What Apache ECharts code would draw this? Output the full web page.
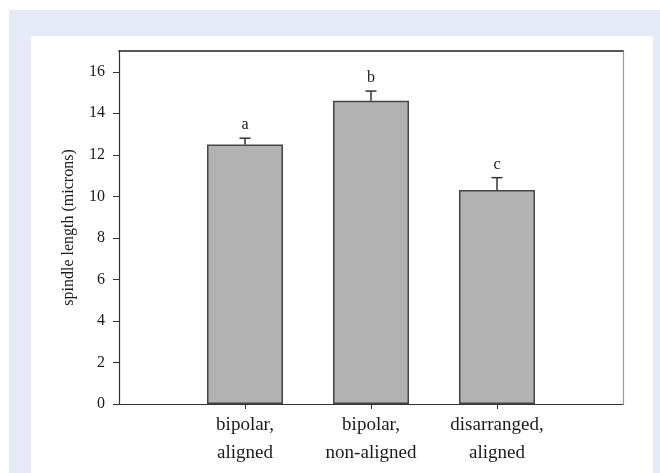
<!DOCTYPE html>
<html>
<head>
<meta charset="utf-8">
<script src="https://cdn.jsdelivr.net/npm/echarts@6/dist/echarts.min.js"></script>
<style>
  html, body { margin: 0; padding: 0; background: #ffffff; }
  #wrap { position: relative; width: 660px; height: 473px; overflow: hidden; }
  #band { position: absolute; left: 9px; top: 10px; width: 651px; height: 463px; background: #e5eaf6; }
  #panel { position: absolute; left: 31px; top: 36px; width: 622px; height: 437px; background: #ffffff; }
  #chart { position: absolute; left: 0; top: 0; width: 660px; height: 473px; }
</style>
</head>
<body>
<div id="wrap">
  <div id="band"></div>
  <div id="panel"></div>
  <div id="chart"></div>
</div>
<script>
const categories = ['bipolar,\naligned', 'bipolar,\nnon-aligned', 'disarranged,\naligned'];
const means = [12.5, 14.6, 10.3];
const errors = [0.3, 0.47, 0.6];
const letters = ['a', 'b', 'c'];
const yTicks = [0, 2, 4, 6, 8, 10, 12, 14, 16];

const axisCats = [''].concat(categories, ['']);
const barData = [null].concat(means, [null]);
const errData = categories.map((c, i) => [i + 1, means[i], means[i] + errors[i], letters[i]]);

const FONT = '"Liberation Serif", "DejaVu Serif", serif';
const TXT = '#1a1a1a';

const chart = echarts.init(document.getElementById('chart'), null, { renderer: 'canvas' });
chart.setOption({
  animation: false,
  backgroundColor: 'transparent',
  grid: { left: 119, right: 37, top: 51, bottom: 69 },
  xAxis: [{
    type: 'category',
    data: axisCats,
    boundaryGap: false,
    axisLine: { onZero: false, lineStyle: { color: '#333', width: 1.2 } },
    axisTick: { show: true, length: 5, lineStyle: { color: '#333' },
      interval: function (idx) { return idx > 0 && idx < axisCats.length - 1; } },
    axisLabel: { color: TXT, fontFamily: FONT, fontSize: 19, lineHeight: 28, margin: 7,
      interval: function (idx) { return idx > 0 && idx < axisCats.length - 1; } },
    splitLine: { show: false }
  }, {
    type: 'category',
    data: axisCats,
    position: 'top',
    boundaryGap: false,
    axisLine: { onZero: false, lineStyle: { color: '#222', width: 1.5 } },
    axisTick: { show: false },
    axisLabel: { show: false }
  }],
  yAxis: [{
    type: 'value',
    min: 0,
    max: 17,
    interval: 2,
    name: 'spindle length (microns)',
    nameLocation: 'middle',
    nameGap: 42,
    nameTextStyle: { color: TXT, fontFamily: FONT, fontSize: 16 },
    axisLine: { show: true, lineStyle: { color: '#333', width: 1.2 } },
    axisTick: { show: true, length: 6, lineStyle: { color: '#333' }, customValues: yTicks },
    axisLabel: { color: TXT, fontFamily: FONT, fontSize: 16, margin: 14, customValues: yTicks },
    splitLine: { show: false }
  }, {
    type: 'value',
    min: 0,
    max: 17,
    position: 'right',
    axisLine: { show: true, onZero: false, lineStyle: { color: '#999', width: 1.2 } },
    axisTick: { show: false },
    axisLabel: { show: false },
    splitLine: { show: false }
  }],
  series: [{
    type: 'bar',
    data: barData,
    barWidth: 76,
    itemStyle: { color: '#b2b2b2', borderColor: '#444', borderWidth: 1.5 },
    z: 2
  }, {
    type: 'custom',
    data: errData,
    z: 3,
    renderItem: function (params, api) {
      const x = api.value(0);
      const base = api.coord([x, api.value(1)]);
      const top = api.coord([x, api.value(2)]);
      const half = 5.5;
      return {
        type: 'group',
        children: [{
          type: 'line',
          shape: { x1: base[0], y1: base[1], x2: top[0], y2: top[1] },
          style: { stroke: '#333', lineWidth: 1.5 }
        }, {
          type: 'line',
          shape: { x1: top[0] - half, y1: top[1], x2: top[0] + half, y2: top[1] },
          style: { stroke: '#333', lineWidth: 1.5 }
        }, {
          type: 'text',
          x: top[0],
          y: top[1] - 5,
          style: {
            text: letters[params.dataIndex],
            fill: TXT,
            font: '16px ' + FONT,
            textAlign: 'center',
            textVerticalAlign: 'bottom'
          }
        }]
      };
    }
  }]
});
</script>
</body>
</html>
